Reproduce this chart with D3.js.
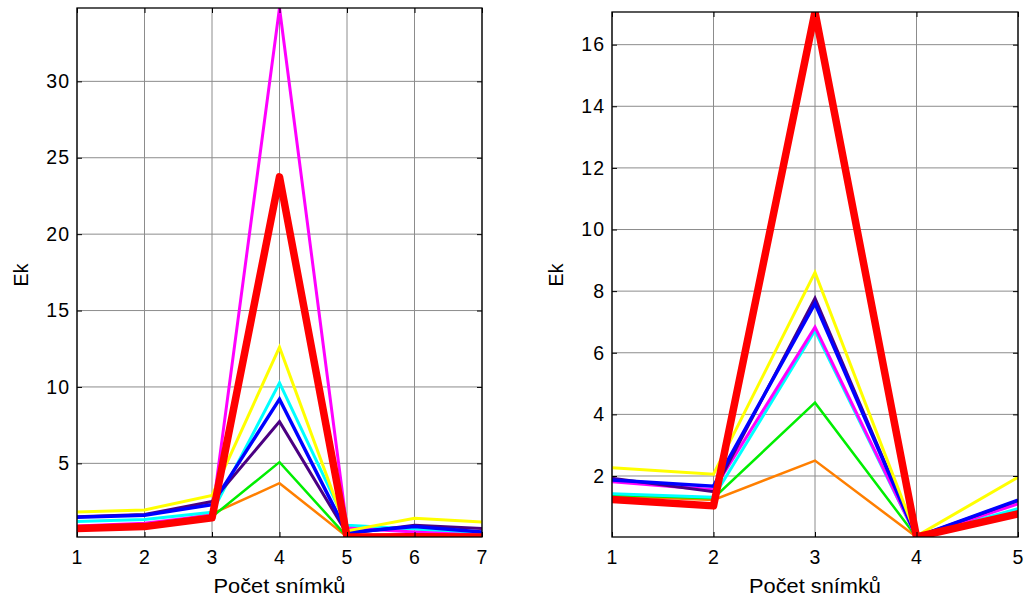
<!DOCTYPE html>
<html>
<head>
<meta charset="utf-8">
<script src="https://d3js.org/d3.v7.min.js"></script>
<style>
  body { margin: 0; background: #fff; }
  text { font-family: "Liberation Sans", Arial, sans-serif; }
</style>
</head>
<body>
<svg id="chart" width="1026" height="600"></svg>
<script>
// series colours, in draw order (red thick last)
const seriesNames  = ["orange", "green", "cyan", "magenta", "indigo", "blue", "yellow", "red"];
const seriesColors = ["#ff7f00", "#00ee00", "#00ffff", "#ff00ff", "#4b0082", "#0000ff", "#ffff00", "#ff0000"];
const seriesWidths = [2.5, 2.5, 3, 3, 3, 3.5, 3, 7.5];

// left panel: 7 frames
const leftX = [1, 2, 3, 4, 5, 6, 7];
const leftValues = [
  [0.70, 0.85, 1.70, 3.70, 0.20, 0.35, 0.20],   // orange
  [0.75, 0.95, 1.50, 5.08, 0.20, 0.30, 0.20],   // green
  [1.20, 1.33, 1.80, 10.27, 0.95, 0.70, 0.40],  // cyan
  [0.90, 1.08, 1.60, 34.80, 0.77, 0.50, 0.30],  // magenta
  [1.50, 1.65, 2.50, 7.73, 0.40, 0.95, 0.73],   // indigo
  [1.47, 1.60, 2.30, 9.20, 0.47, 0.86, 0.50],   // blue
  [1.82, 1.95, 2.90, 12.60, 0.58, 1.40, 1.16],  // yellow
  [0.73, 0.86, 1.43, 23.75, 0.18, 0.20, 0.18]   // red
];
const leftYTicks = [5, 10, 15, 20, 25, 30];

// right panel: 5 frames
const rightX = [1, 2, 3, 4, 5];
const rightValues = [
  [1.35, 1.22, 2.50, 0.02, 0.79],   // orange
  [1.38, 1.28, 4.38, 0.02, 0.90],   // green
  [1.42, 1.31, 6.72, 0.02, 0.94],   // cyan
  [1.81, 1.55, 6.83, 0.02, 1.09],   // magenta
  [1.93, 1.49, 7.77, 0.02, 1.20],   // indigo
  [1.87, 1.67, 7.60, 0.02, 1.22],   // blue
  [2.27, 2.06, 8.61, 0.05, 1.96],   // yellow
  [1.24, 1.03, 17.06, 0.02, 0.77]   // red
];
const rightYTicks = [2, 4, 6, 8, 10, 12, 14, 16];

const xLabel = "Počet snímků";
const yLabel = "Ek";

const svg = d3.select("#chart");
const fontSize = 19.5;

function drawPanel(id, box, xs, values, yTicks) {
  const allVals = values.flat();
  const x = d3.scaleLinear().domain(d3.extent(xs)).range([box.left, box.right]);
  const y = d3.scaleLinear().domain([d3.min(allVals), d3.max(allVals)]).range([box.bottom, box.top]);

  const g = svg.append("g");

  g.append("clipPath").attr("id", "clip-" + id)
    .append("rect")
    .attr("x", box.left).attr("y", box.top)
    .attr("width", box.right - box.left).attr("height", box.bottom - box.top);

  // grid
  const grid = g.append("g").attr("stroke", "#8c8c8c").attr("stroke-width", 1);
  xs.forEach(v => {
    grid.append("line").attr("x1", x(v)).attr("x2", x(v))
      .attr("y1", box.top).attr("y2", box.bottom);
  });
  yTicks.forEach(v => {
    grid.append("line").attr("x1", box.left).attr("x2", box.right)
      .attr("y1", y(v)).attr("y2", y(v));
  });

  // lines
  const line = d3.line().x((d, i) => x(xs[i])).y(d => y(d));
  const lines = g.append("g").attr("clip-path", "url(#clip-" + id + ")");
  values.forEach((vals, k) => {
    const thick = seriesWidths[k] > 5;
    lines.append("path")
      .attr("d", line(vals))
      .attr("fill", "none")
      .attr("stroke", seriesColors[k])
      .attr("stroke-width", seriesWidths[k])
      .attr("stroke-linejoin", thick ? "round" : "miter")
      .attr("stroke-linecap", thick ? "round" : "butt")
      .attr("stroke-miterlimit", 20);
  });

  // axes (ticks inward, mirrored on box)
  g.append("g").attr("transform", "translate(0," + box.bottom + ")")
    .call(d3.axisBottom(x).tickValues(xs).tickFormat(d3.format("d")).tickSizeInner(-5).tickSizeOuter(0).tickPadding(13))
    .call(a => a.select(".domain").remove());
  g.append("g").attr("transform", "translate(0," + box.top + ")")
    .call(d3.axisTop(x).tickValues(xs).tickFormat("").tickSizeInner(-5).tickSizeOuter(0))
    .call(a => a.select(".domain").remove());
  g.append("g").attr("transform", "translate(" + box.left + ",0)")
    .call(d3.axisLeft(y).tickValues(yTicks).tickFormat(d3.format("d")).tickSizeInner(-5).tickSizeOuter(0).tickPadding(7))
    .call(a => a.select(".domain").remove());
  g.append("g").attr("transform", "translate(" + box.right + ",0)")
    .call(d3.axisRight(y).tickValues(yTicks).tickFormat("").tickSizeInner(-5).tickSizeOuter(0))
    .call(a => a.select(".domain").remove());

  g.selectAll(".tick line").attr("stroke", "#000");
  g.selectAll(".tick text").attr("font-size", fontSize).attr("fill", "#000")
    .attr("letter-spacing", 1)
    .style("font-family", "'Liberation Sans', Arial, sans-serif");

  // frame
  g.append("rect")
    .attr("x", box.left).attr("y", box.top)
    .attr("width", box.right - box.left).attr("height", box.bottom - box.top)
    .attr("fill", "none").attr("stroke", "#000").attr("stroke-width", 1.3);

  // labels
  const cx = (box.left + box.right) / 2;
  g.append("text")
    .attr("x", cx - 66).attr("y", 593)
    .attr("font-size", fontSize)
    .attr("textLength", 132).attr("lengthAdjust", "spacingAndGlyphs")
    .text(xLabel);
  g.append("text")
    .attr("transform", "translate(" + (box.left - 49) + "," + 275 + ") rotate(-90)")
    .attr("text-anchor", "middle").attr("font-size", fontSize)
    .text(yLabel);
}

drawPanel("left",  {left: 77,  right: 482,  top: 8,  bottom: 537}, leftX,  leftValues,  leftYTicks);
drawPanel("right", {left: 612, right: 1018, top: 12, bottom: 537}, rightX, rightValues, rightYTicks);
</script>
</body>
</html>
